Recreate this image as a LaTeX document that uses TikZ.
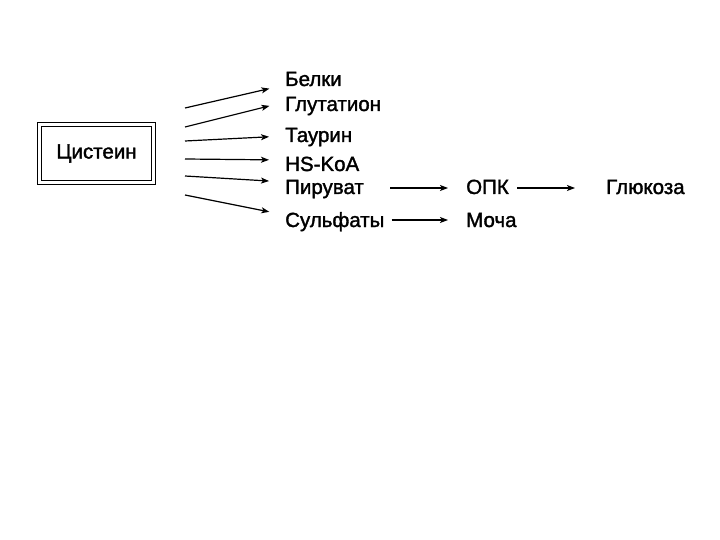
\documentclass[tikz,border=0pt]{standalone}
\usepackage{fontspec}
\setmainfont{Liberation Sans}[FakeBold=1.6]
\usetikzlibrary{arrows.meta,positioning}

\begin{document}
\begin{tikzpicture}[x=1pt, y=-1pt,
    every node/.style={font=\fontsize{20.5}{23}\selectfont, inner sep=0pt},
    item/.style={anchor=base west},
    frame/.style={draw, double, double distance=3.5pt, line width=1.1pt,
                  minimum width=114pt, minimum height=58pt},
    conv/.style={-{Stealth[length=8pt, width=6pt, inset=2pt]}, line width=1.2pt, shorten >=16pt}]
  \useasboundingbox (0,0) rectangle (720,540);
  \node[frame] (cys) at (96.5,153.5) {Цистеин};

  % products
  \node[item] (belki) at (285,86)  {Белки};
  \node[item] (glut)  at (285,111) {Глутатион};
  \node[item] (taur)  at (285,142) {Таурин};
  \node[item] (hskoa) at (285,171) {HS-KoA};
  \node[item] (pyr)   at (285,194) {Пируват};
  \node[item] (sulf)  at (285,227) {Сульфаты};
  \node[item] (opk)   at (466,194) {ОПК};
  \node[item] (gluc)  at (606,194) {Глюкоза};
  \node[item] (urine) at (466,227) {Моча};

  % free ends next to the frame
  \coordinate (s1) at (185,108);
  \coordinate (s2) at (185,127);
  \coordinate (s3) at (185,141);
  \coordinate (s4) at (185,159);
  \coordinate (s5) at (185,176);
  \coordinate (s6) at (185,195);

  \draw[conv] (s1) -- ([yshift=1pt]belki.base west);
  \draw[conv] (s2) -- ([yshift=9pt]glut.base west);
  \draw[conv] (s3) -- ([yshift=6pt]taur.base west);
  \draw[conv] (s4) -- ([yshift=11pt]hskoa.base west);
  \draw[conv] (s5) -- ([yshift=12pt]pyr.base west);
  \draw[conv] (s6) -- ([yshift=12pt]sulf.base west);

  \draw[conv, shorten <=26pt, shorten >=18pt] ([yshift=6pt]pyr.base east) -- ([yshift=6pt]opk.base west);
  \draw[conv, shorten <=8pt, shorten >=31pt] ([yshift=6pt]opk.base east) -- ([yshift=6pt]gluc.base west);
  \draw[conv, shorten <=7pt, shorten >=18pt] ([yshift=7pt]sulf.base east) -- ([yshift=7pt]urine.base west);
\end{tikzpicture}
\end{document}
